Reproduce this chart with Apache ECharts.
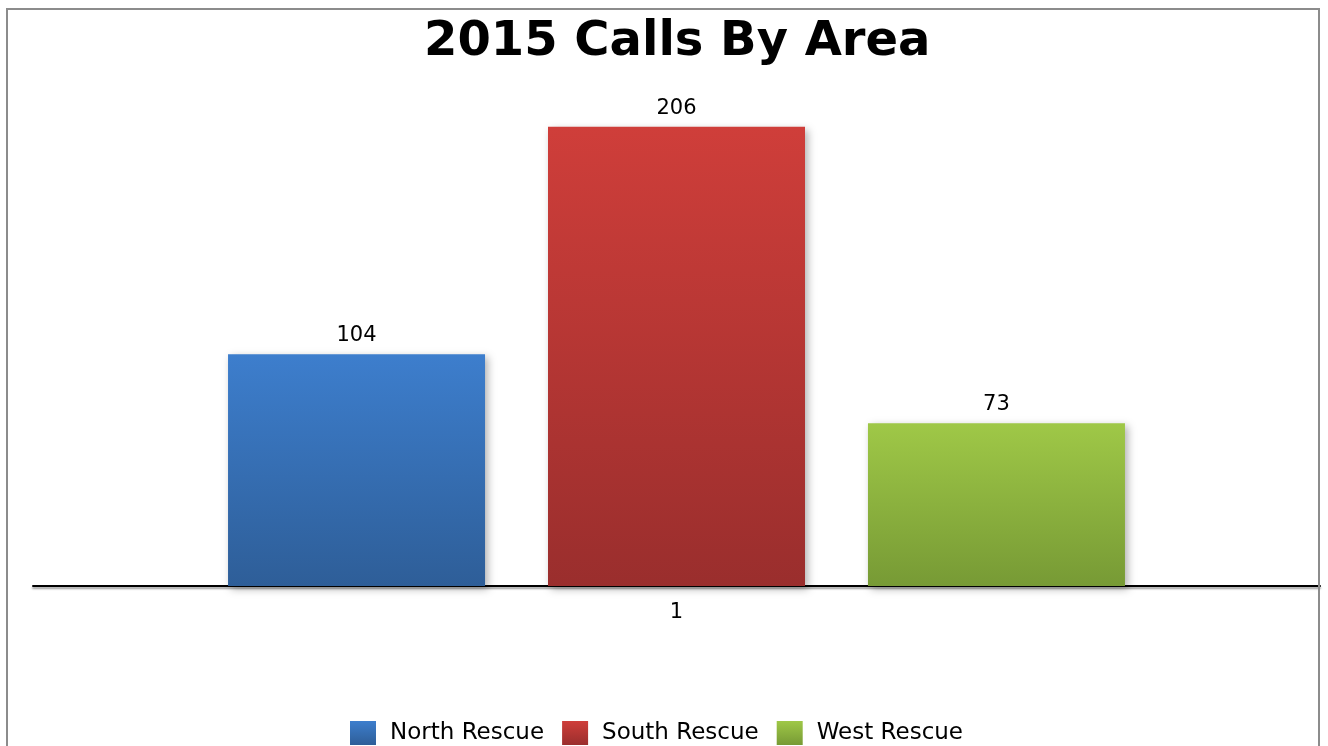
<!DOCTYPE html>
<html>
<head>
<meta charset="utf-8">
<title>2015 Calls By Area</title>
<script src="https://cdn.jsdelivr.net/npm/echarts@6/dist/echarts.min.js"></script>
<style>
  html, body { margin: 0; padding: 0; background: #fff; overflow: hidden; }
  #main { width: 1328px; height: 746px; }
  .frame {
    position: absolute; left: 6px; top: 8px; width: 1310px; height: 760px;
    border: 2px solid #8c8c8c; pointer-events: none;
  }
</style>
</head>
<body>
<div id="main"></div>
<div class="frame"></div>
<script>
// 数据
var categories = ['1']
var seriesNames = ['North Rescue', 'South Rescue', 'West Rescue']
var northValues = [104]
var southValues = [206]
var westValues = [73]

// 渐变色 (上 -> 下)
var colors = [
  ['#3d7ecd', '#2e5e98'],
  ['#cf3e3a', '#9a2e2d'],
  ['#9fc847', '#779a35']
]

function grad(c) {
  return new echarts.graphic.LinearGradient(0, 0, 0, 1, [
    {offset: 0, color: c[0]},
    {offset: 1, color: c[1]}
  ])
}

function makeSeries(name, data, c) {
  return {
    name: name,
    type: 'bar',
    data: data,
    barWidth: 257,
    barGap: '24.5%',
    itemStyle: {
      color: grad(c),
      shadowBlur: 8,
      shadowOffsetX: 3,
      shadowOffsetY: 3,
      shadowColor: 'rgba(0, 0, 0, 0.3)'
    },
    label: {
      show: true,
      position: 'top',
      distance: 8,
      color: '#000',
      fontFamily: 'DejaVu Sans',
      fontSize: 21
    }
  }
}

var myChart = echarts.init(document.getElementById('main'))
myChart.setOption({
  animation: false,
  title: {
    text: '2015 Calls By Area',
    left: 424,
    top: 19,
    padding: 0,
    textStyle: {
      fontFamily: 'DejaVu Sans',
      fontWeight: 'bold',
      fontSize: 48,
      color: '#000'
    }
  },
  legend: {
    left: 350,
    top: 721,
    padding: 0,
    itemWidth: 26,
    itemHeight: 24,
    itemGap: 18,
    icon: 'rect',
    data: seriesNames,
    textStyle: {
      fontFamily: 'DejaVu Sans',
      fontSize: 23,
      color: '#000',
      padding: [5, 0, 0, 9]
    }
  },
  grid: {
    left: 33,
    right: 8,
    top: 51,
    bottom: 160
  },
  xAxis: {
    type: 'category',
    data: categories,
    axisTick: {show: false},
    axisLine: {
      lineStyle: {
        color: '#000',
        width: 2,
        shadowColor: 'rgba(0, 0, 0, 0.4)',
        shadowBlur: 2,
        shadowOffsetY: 2
      }
    },
    axisLabel: {
      margin: 16,
      color: '#000',
      fontFamily: 'DejaVu Sans',
      fontSize: 21
    }
  },
  yAxis: {
    type: 'value',
    min: 0,
    max: 240,
    show: false,
    splitLine: {show: false}
  },
  series: [
    makeSeries(seriesNames[0], northValues, colors[0]),
    makeSeries(seriesNames[1], southValues, colors[1]),
    makeSeries(seriesNames[2], westValues, colors[2])
  ]
})
</script>
</body>
</html>
